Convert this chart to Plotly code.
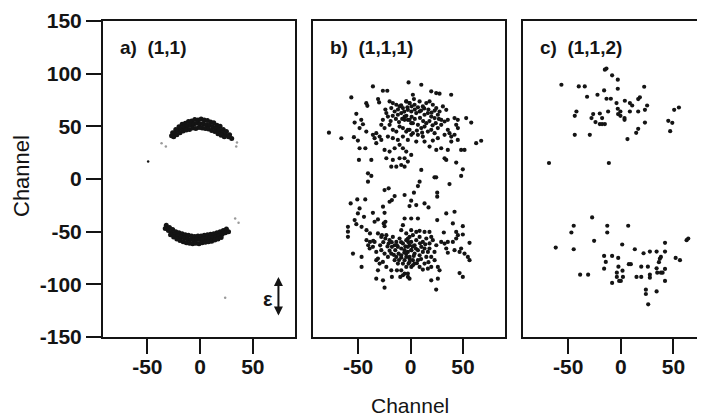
import plotly.graph_objects as go

# ---------------- data ----------------
# panel a) (1,1): two dense arcs (upper / lower) plus a few faint points
a_top_x = [-26, -23, -20, -17, -14, -11, -8, -5, -2, 1, 4, 7, 10, 13, 16, 19, 22, 25, 28,
           -27, -24, -21, -18, -15, -12, -9, -6, -3, 0, 3, 6, 9, 12, 15, 18, 21, 24, 27, 30,
           -25, -22, -19, -16, -13, -10, -7, -4, -1, 2, 5, 8, 11, 14, 17, 20, 23]
a_top_y = [44, 47, 49.5, 52, 53, 54.5, 55, 56.5, 56, 57, 56, 55.5, 54, 53.5, 51, 50, 47, 45, 42,
           41, 44, 46, 48, 49.5, 50.5, 51.5, 52, 53, 52.5, 52.5, 51.5, 51, 49.5, 48, 46.5, 44, 42, 40, 38.5,
           40, 42, 44, 45.5, 46.5, 47, 48.5, 48, 49, 48.5, 48, 47.5, 46, 45, 43, 41.5, 40]
a_bot_x = [-32, -29, -26, -23, -20, -17, -14, -11, -8, -5, -2, 1, 4, 7, 10, 13, 16, 19, 22, 25,
           -33, -30, -27, -24, -21, -18, -15, -12, -9, -6, -3, 0, 3, 6, 9, 12, 15, 18, 21, 24, 27,
           -28, -25, -22, -19, -16, -13, -10, -7, -4, -1, 2, 5, 8, 11, 14, 17, 20]
a_bot_y = [-44, -46, -48, -50, -51, -52, -53, -53.5, -54, -54.5, -54, -54, -53.5, -53, -52.5, -52, -51, -50, -49, -47.5,
           -47, -49, -51, -52.5, -54, -55, -56, -57, -57.5, -58, -57.5, -57.5, -57, -57, -56, -55.5, -55, -54, -52.5, -51, -50,
           -53, -55, -57, -58.5, -59.5, -60.5, -61, -61.5, -61, -61.5, -60.5, -60, -59.5, -59, -58, -57, -55.5]
a_faint_x = [-36.5, -32.4, 35, 34.3, 33.3, 36.5, 23.8]
a_faint_y = [34, 30.8, 34.6, 30.8, -37.5, -41.6, -112.7]
a_dot_x = [-49.2]
a_dot_y = [16.5]

# panel b) (1,1,1)
b_x = [
    # top cluster edges / outliers
    -77.8, -66, -56.5, -35.9, -26.4, -22.2, -42.2, -41.2, -31, -30, -51.7, -53.3, -47, -45.4, -48.6, -42.2,
    -54, -50.2, -48.6, -43.1, -49.2, -37.4, -40.6, -37.4,
    -1.9, 10.2, 19.7, 24.4, 27.6, 38.7, 2.2, 3.2, 53, 57.8, 45.1, 41.9, 62.5, 67.3, -4.1, 0.6, 29.2, 35.5,
    48.2, 51.4, 32.4, 34, 43.5, 10.2, 22.8, 24.4, 49.8, 48.2,
    # top cluster dense (left half)
    -20, -16.9, -13.6, -10.5, -7.3, -4.1, -1, -18.4, -15.2, -12.1, -8.9, -5.7, -2.6, 0.7, -23.1, -21.6,
    -26.4, -27.9, -24.8, -20, -16.9, -13.6, -10.5, -7.3, -4.1, -1, 0.7, -21.6, -16.9, -12.1, -7.3, -2.6,
    -29.5, -27.9, -34.3, -32.7, -35.9, -32.7, -24.8, -20, -15.2, -10.5, -7.3, -5.7, -2.6, -10.5, -8.9,
    -5.7, -18.4, -23.1, -16.9,
    # top cluster dense (right half)
    -4.1, -1, 3.8, 8.6, 11.7, 15, 18.1, 21.2, 24.5, 27.6, 30.8, 34, -2.6, 0.7, 5.4, 8.6, 13.3, 16.5,
    19.7, 22.9, 26, 29.2, 32.4, 35.5, 41.9, 45, 43.5, -5.7, -1, 2.2, 7, 10.2, 13.3, 16.5, 19.7, 22.9,
    26, 29.2, 35.5, 37.1, 38.8, -2.6, 2.2, 7, 11.7, 5.4, 13.3, 21.2, 26, 32.4, 38.8, 45, 18.1, 24.5,
    # top cluster core
    -12, -9, -6, -3, 1, 4, 7, 10, 13, 17, 20, 23, -14, -11, -8, -4, 1, 4, 9, 12, 15, 18, 21, 24, 27,
    -17, -24, -19, 6, 11,
    # bridge and bottom cluster (scattered)
    -40.6, -24.8, -20.9, -15.2, -17.8, -20, -57.1, -50.8, -43.2, -50.2, -48.6, -44.4, -35.9, -26.3, -24.8,
    -53.3, -51.7, -59.7, -59.7, -59.7, -46.7, -42, -38.7, -25.6, -24, -24.8, -34.3, -31.1, -5.7, -7.3, -8.9,
    -42, -38.7, -35.6, -40.4, -27.3, -24, -20.9, -17.8, -14.6, -11.4, -8.9, -5.7, -1.9, -54.9, -46.7, -46.7,
    -32.7, -29.5, -31.1, -32.7, -26.3, -24.8, -17.8, -13, -9.8, -5.7, -13.6,
    8.6, 7, 37.1, 3.2, 25.4, 25.4, 0.6, -1, 5.4, 13.3, 17.1, 34, 41.9, 0.6, 7, 25.4, 40.3, 49.8, 0.6,
    8.6, 13.3, 18, 31.7, 43.5, 45.1, 49.8, 35.5, 40.3, 43.5, 56.2, -2.5, 0.6, 3.8, 7, 13.3, 16.5, 18,
    22.8, 29.2, 32.4, 34, 35.5, 41.9, 46.7, 48.2, 51.4, 54.6, 56.2, -1, 3.8, 8.6, 11.7, 19.7, 26, 27.6,
    -5.7, -2.5, 19.7, 26, 24.4, 46.7, 49.8,
    # bottom cluster dense
    -31.1, -27.9, -23.1, -20, -16.9, -13.6, -10.5, -7.3, -4.1, -1, 0.7, -2.6, -5.7, -8.9, -12.1, -15.2,
    -18.4, -13.6, -8.9, -4.1, -1, 2.2, -7.3, -4.1, 0.7, -12.1, -15.2, -21.6, -24.8, -27.9, -32.7, -31.1,
    -26.4, -23.1, -18.4, -8.9, -2.6, -1, -7.3, -35.9, -39, -34.3,
    -4.1, -1, 2.2, 5.4, 8.6, 11.7, 15, 18.1, 21.2, 24.5, -2.6, 0.7, 3.8, 8.6, 11.7, 15, 19.7, 22.9,
    -4.1, -1, 2.2, 7, 13.3, 16.5, 10.2, 19.7, 5.4,
    # bottom cluster core
    -22, -18, -13, -9, -5, -2, 2, 5, 9, -11, -6, 3, 6, 10, -16, -20, -26, -29, 14, 17,
]
b_y = [
    44, 38.7, 77.4, 87.9, 83.8, 83.8, 72, 69.5, 75.9, 72.7, 61.9, 53.6, 56.2, 52, 48.3, 45,
    39.7, 36.5, 29.2, 29.2, 18.1, 18.1, 5.4, 2.9,
    91.7, 89.5, 83.2, 81.6, 81, 80, 80, 75.9, 57.8, 53.6, 48.3, 42, 34, 36.3, 26, 22.9, 29.2, 27.6,
    27.6, 27.6, 19.6, 18.1, 15.6, 8.6, 1.6, 1.6, 9.2, 2.9,
    73.6, 72.1, 70.5, 68.9, 67.3, 73.6, 72.1, 67.3, 64.1, 61, 62.6, 59.3, 56.2, 53, 62.6, 59.3,
    56.2, 51.4, 48.3, 51.4, 46.7, 45, 49.8, 48.3, 45, 46.7, 41.9, 40.3, 38.8, 37.1, 40.3, 37.1,
    40.3, 37.1, 38.8, 43.5, 41.9, 34, 27.6, 26, 29.2, 32.4, 29.2, 19.7, 16.5, 19.7, 13.3,
    11.7, 11.7, 19.7, 18.1,
    73.6, 72.1, 70.5, 73.6, 68.9, 72.1, 73.6, 70.5, 67.3, 64.1, 68.9, 65.7, 65.7, 64.1, 62.6, 64.1, 61, 62.6,
    59.3, 57.8, 61, 56.2, 54.6, 56.2, 57.8, 56.2, 51.4, 56.2, 56.2, 53, 51.4, 48.3, 49.8, 45, 46.7, 43.5,
    48.3, 51.4, 46.7, 43.5, 40.3, 46.7, 43.5, 41.9, 40.3, 35.5, 35.5, 36.5, 38.8, 41.9, 35.5, 37.1, 30.8, 27.6,
    66, 70, 64, 68, 69, 66, 68, 65, 67, 66, 63, 65, 57, 54, 57, 60, 59, 57, 58, 55, 53, 55, 51, 53, 57,
    60, 66, 55, 46, 44,
    -2.5, -10.5, -8.9, -16.2, -20, -21.6, -23.2, -19.4, -19.4, -32.7, -27.9, -35.9, -32.1, -26.3, -32.1,
    -39, -42.9, -45.4, -50, -54.9, -45.4, -48.6, -51.7, -42.2, -40.6, -44.8, -40.6, -38.4, -37.5, -43.8, -48.6,
    -58.1, -59.7, -58.7, -62.9, -53.3, -56.5, -61.3, -64.4, -67.6, -70.8, -74.6, -77.1, -80.3, -70.8, -74, -83.5,
    -77.1, -80.3, -86.7, -94.6, -96.2, -103.2, -93, -86.7, -93, -15.2, 11.7,
    -2.5, -6.7, -4.8, -13, -13, -16.8, -20.6, -25.7, -24.8, -23.2, -27, -32.7, -31.1, -37.5, -37.5, -39, -42.2, -44.8, -48.6,
    -49.2, -50.2, -50.2, -50.8, -50.2, -53.3, -52.7, -59.7, -59.7, -56.5, -60.6, -56.5, -59.7, -62.9, -67.6, -66, -69.2, -66,
    -69.2, -59.7, -61.3, -66, -70, -67.6, -69.2, -66, -70.8, -74, -77.1, -78.7, -80.3, -83.5, -86, -83.5, -83.5, -86.7,
    -89.9, -93, -96.2, -94.6, -105, -89.3, -93,
    -51.7, -55, -53.3, -58.1, -55, -59.7, -56.5, -61.2, -58.1, -62.9, -67.6, -69.2, -67.6, -66, -64.4, -62.9,
    -70.8, -74, -72.4, -74, -75.5, -77.1, -80.3, -83.5, -83.5, -80.3, -77.1, -74, -70.8, -67.6, -69.2, -75.5,
    -78.7, -83.5, -86.7, -86.7, -89.8, -94.6, -91.4, -64.4, -66, -59.7,
    -51.7, -55, -53.3, -58.1, -55, -59.7, -56.5, -61.2, -58.1, -62.9, -64.4, -67.6, -70.8, -72.4, -69.2, -74, -74, -77.1,
    -70.8, -74, -81.9, -77.1, -80.3, -85.1, -64.4, -55, -50.2,
    -64, -60, -63, -60, -64, -60, -64, -66, -61, -77, -70, -73, -80, -76, -72, -68, -60, -63, -62, -79,
]

# panel c) (1,1,2)
c_x = [
    -15.2, -13.7, -8.3, -2.9, -56.5, -40, -34.3, -2.9, 22.2, -15.9, -32.1, -22.2, -13.6, -9.5, 18.1, 16.5,
    -4.1, 3.8, 8.6, 10.8, 25, -42.2, -43.8, -26.3, -20, -27.9, -17.8, -24.1, -20, -17.8, -15.2, -12.1,
    -2.9, -0.4, -2.6, -0.4, 3.5, 3.5, 8.6, 16.5, 22.9, 22.9, 16.5, 14.6, 6.3, -43.8, -29.5, 45.1, 48.9,
    46.9, 50.7, 55.2, -68.3, -11.4,
    -27.3, -44.8, -47, -12.9, -12.9, 7, -61.9, -44.8, -25.4, 1.3, 13.3, 21.6, 27.6, 34, 42, 42, 38.1, 37.1,
    62.5, 64.1, 52.1, 56.2, -15.9, -8.3, -2.5, -14.3, 7.6, 9.5, 19.4, 25.7, 36.2, -15.9, -2.3, 1.6, -3.8,
    -3.8, 2, -8.3, -1.6, 0, -38.7, -31.1, 14.9, 19.4, 27.6, 27.6, 34, 34.6, 38.1, 39.7, 42, 42, 23.8, 23.8,
    34, 26,
]
c_y = [
    103.8, 104.8, 98.4, 94.3, 89.5, 87.9, 87.9, 85.7, 87.6, 84.1, 78.1, 80, 76.2, 76.2, 77.5, 75.9,
    72.1, 74.3, 72.1, 69.8, 69.8, 64.1, 60, 61.6, 62.2, 57.8, 57.8, 54, 52.1, 52.1, 52.1, 64.1,
    66.7, 64.1, 61.6, 60, 57.8, 56.2, 64.1, 64.1, 65.7, 53.6, 47.6, 43.8, 37.9, 41.9, 41.9, 55.2, 53.3,
    45.4, 65.7, 67.9, 15.2, 15.2,
    -36.5, -44.4, -50.8, -44.4, -50.8, -44.4, -65.1, -66.7, -58.7, -62.2, -66.7, -70.5, -68.9, -68.9, -60.6, -68.9, -74, -75.6,
    -58.1, -56.5, -74.9, -77.1, -73, -73, -74.9, -78.7, -80.9, -80.9, -83.2, -83.2, -79, -85.1, -83.2, -87, -88.9,
    -93, -93, -98.7, -96.8, -96.8, -90.8, -90.8, -93, -93, -90.8, -93.7, -84.8, -88.9, -88.9, -88.9, -85.4, -96.8, -105.1, -109.2,
    -106.7, -119,
]

x_tickvals = [-50, 0, 50]
x_ticktext = ["-50", "0", "50"]
y_tickvals = [-150, -100, -50, 0, 50, 100, 150]
y_ticktext = ["-150", "-100", "-50", "0", "50", "100", "150"]
panel_labels = ["a)\u00a0\u00a0(1,1)", "b)\u00a0\u00a0(1,1,1)", "c)\u00a0\u00a0(1,1,2)"]
axis_title = "Channel"

# ---------------- figure ----------------
# the page body has an 8px default margin: the figure is 697x408 so it ends at the window edge
INK = "#141414"
FONT = "Liberation Sans"
dot = dict(color=INK, size=4.2)

fig = go.Figure()
fig.add_trace(go.Scatter(x=a_top_x, y=a_top_y, mode="markers", marker=dict(color=INK, size=5),
                         xaxis="x", yaxis="y", hoverinfo="skip"))
fig.add_trace(go.Scatter(x=a_bot_x, y=a_bot_y, mode="markers", marker=dict(color=INK, size=5),
                         xaxis="x", yaxis="y", hoverinfo="skip"))
fig.add_trace(go.Scatter(x=a_faint_x, y=a_faint_y, mode="markers", marker=dict(color="#9a9a9a", size=2.5),
                         xaxis="x", yaxis="y", hoverinfo="skip"))
fig.add_trace(go.Scatter(x=a_dot_x, y=a_dot_y, mode="markers", marker=dict(color=INK, size=2.5),
                         xaxis="x", yaxis="y", hoverinfo="skip"))
fig.add_trace(go.Scatter(x=b_x, y=b_y, mode="markers", marker=dot, xaxis="x2", yaxis="y2", hoverinfo="skip"))
fig.add_trace(go.Scatter(x=c_x, y=c_y, mode="markers", marker=dot, xaxis="x3", yaxis="y3", hoverinfo="skip"))

tickfont = dict(family=FONT, size=21, color=INK, weight="bold")
common_x = dict(tickvals=x_tickvals, ticktext=x_ticktext, ticks="outside", ticklen=15, tickwidth=2,
                tickcolor=INK, showline=True, linewidth=2, linecolor=INK, mirror=True, showgrid=False,
                zeroline=False, tickfont=tickfont, ticklabelstandoff=-5)
common_y = dict(range=[-150, 150], showline=True, linewidth=2, linecolor=INK, showgrid=False,
                zeroline=False)

W = 602.0
fig.update_layout(
    width=697, height=408,
    margin=dict(l=95, r=0, t=13, b=79),
    paper_bgcolor="white", plot_bgcolor="white",
    showlegend=False,
    xaxis=dict(domain=[0, 192 / W], range=[-92, 90], anchor="y", **common_x),
    yaxis=dict(anchor="x", tickvals=y_tickvals, ticktext=y_ticktext, ticks="outside", ticklen=15,
               tickwidth=2, tickcolor=INK, mirror=True, tickfont=tickfont, ticklabelstandoff=0, **common_y),
    xaxis2=dict(domain=[210 / W, 402 / W], range=[-93, 90], anchor="y2", **common_x),
    yaxis2=dict(anchor="x2", showticklabels=False, ticks="", mirror=True, **common_y),
    xaxis3=dict(domain=[420 / W, 1.0], range=[-93, 80], anchor="y3", **common_x),
    yaxis3=dict(anchor="x3", showticklabels=False, ticks="", mirror=False, **common_y),
)

anns = []
for i, lab in enumerate(panel_labels):
    sfx = "" if i == 0 else str(i + 1)
    anns.append(dict(text=lab, xref=f"x{sfx} domain", yref=f"y{sfx} domain", x=0, y=1,
                     xanchor="left", yanchor="middle", xshift=15, yshift=-26, showarrow=False,
                     font=dict(family=FONT, size=19, color=INK, weight="bold")))
# axis titles
anns.append(dict(text=axis_title, xref="paper", yref="paper", x=(22 - 103) / W, y=(337 - 176) / 316,
                 textangle=-90, xanchor="center", yanchor="middle", showarrow=False,
                 font=dict(family=FONT, size=22, color=INK)))
anns.append(dict(text=axis_title, xref="paper", yref="paper", x=(410 - 103) / W, y=(337 - 405) / 316,
                 xanchor="center", yanchor="middle", showarrow=False,
                 font=dict(family=FONT, size=21, color=INK)))
# polarization arrow in panel a
anns.append(dict(text="", x=74.3, y=-93, ax=74.3, ay=-131, xref="x", yref="y", axref="x", ayref="y",
                 showarrow=True, arrowhead=2, arrowside="end+start", arrowwidth=2, arrowsize=0.9,
                 arrowcolor=INK))
anns.append(dict(text="ε", x=64, y=-114, xref="x", yref="y", showarrow=False,
                 font=dict(family=FONT, size=20, color=INK, weight="bold")))
fig.update_layout(annotations=anns)

fig.write_html("out.html")
